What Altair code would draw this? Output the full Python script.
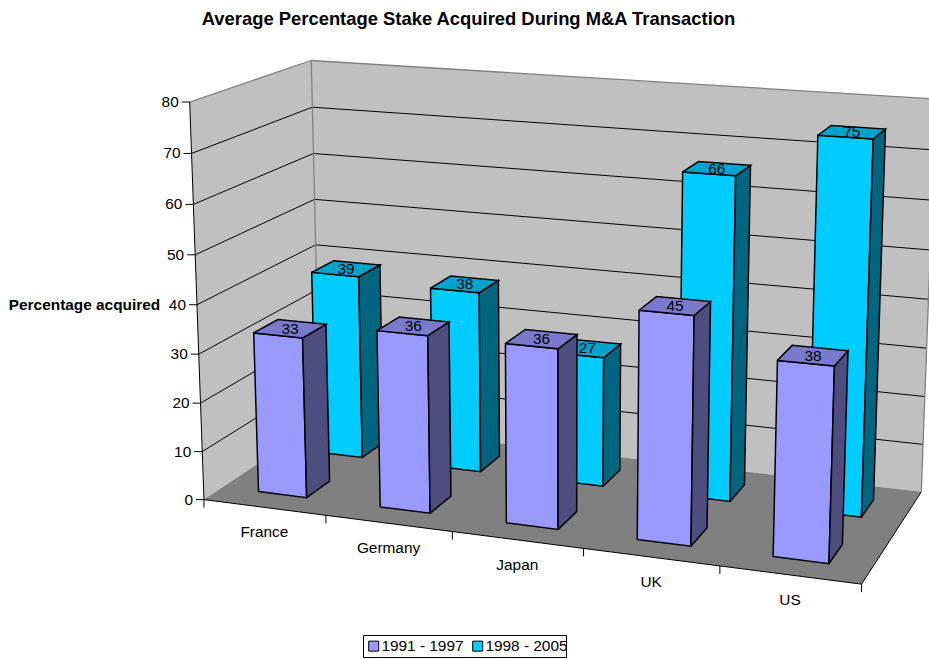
import altair as alt
import numpy as np
import pandas as pd

# Chart values
CATEGORIES = ["France", "Germany", "Japan", "UK", "US"]
EARLY_NAME = "1991 - 1997"
LATE_NAME = "1998 - 2005"
EARLY = [33, 36, 36, 45, 38]
LATE = [39, 38, 27, 66, 75]
VALUE_TICKS = [0, 10, 20, 30, 40, 50, 60, 70, 80]

TITLE = "Average Percentage Stake Acquired During M&A Transaction"
Y_TITLE = "Percentage acquired"
FONT = "Liberation Sans"
TEXT_SIZE = 15.4
TITLE_SIZE = 18.4

# Face colours of each series: front, side, top
EARLY_FACES = ("#9999FF", "#4D4D80", "#7A7ACC")
LATE_FACES = ("#00CCFF", "#006680", "#00A3CC")

# Column footprint: default 150% gap width and depth inside each cell
BAR_WIDTH = 0.4
BAR_DEPTH = 0.2
ROW_CENTRES = {"early": 0.25, "late": 0.75}

# Camera control points for the 3D view: (category, depth, value) -> screen
CAMERA = [
    (0, 0, 0, 205, 499), (0, 0, 80, 188.3, 101.7), (5, 0, 0, 861.7, 584),
    (0, 1, 80, 310.7, 60.3), (5, 1, 80, 929, 98), (5, 1, 0, 921.7, 491.7),
    (0, 1, 70, 312.7, 107.3), (0, 1, 60, 314, 153.3), (0, 1, 50, 315.3, 199.3),
    (0, 1, 40, 316.7, 244.7),
    (.3, .15, 33, 253.3, 333.3), (.7, .15, 33, 302.7, 338.3),
    (.7, .35, 33, 326, 324.7), (.3, .35, 33, 278.3, 319.3),
    (.3, .15, 0, 259, 490.7), (.7, .15, 0, 307, 497), (.7, .35, 0, 330.3, 480.3),
    (.3, .65, 39, 312, 272.7), (.7, .65, 39, 359.3, 277.3),
    (.7, .85, 39, 380, 264.7), (.3, .85, 39, 333.3, 260),
    (.7, .65, 0, 362.3, 456.7), (.7, .85, 0, 379, 445),
    (1.3, .15, 36, 376.7, 331), (1.7, .15, 36, 427.3, 336.7),
    (1.7, .35, 36, 449, 322.7), (1.3, .35, 36, 398.3, 317.3),
    (1.3, .15, 0, 380, 506.7), (1.7, .15, 0, 430, 513), (1.7, .35, 0, 450.7, 496),
    (3.3, .65, 66, 682.7, 172), (3.7, .65, 66, 736, 176.7),
    (3.7, .85, 66, 751.7, 165.3), (3.3, .85, 66, 699.3, 161.7),
    (3.7, .65, 0, 730, 501), (3.7, .85, 0, 745, 485),
    (3.7, .15, 0, 690.7, 546), (3.7, .35, 0, 706.7, 527.7),
    (4.3, .65, 75, 819, 135), (4.7, .65, 75, 874.3, 139.3),
    (4.7, .85, 75, 887.3, 128.7), (4.3, .85, 75, 832.7, 125.3),
    (4.7, .65, 0, 861.7, 516.7), (4.7, .85, 0, 874.3, 500),
    (4.3, .15, 0, 772.7, 556.7), (4.7, .15, 0, 828.3, 564), (4.7, .35, 0, 842.7, 545),
]


def solve_camera(points):
    """Least-squares projective camera through the control points."""
    rows = []
    for u, d, v, px, py in points:
        w = [u / 5, d, v / 80, 1]
        x, y = px / 1000, py / 1000
        rows.append(w + [0, 0, 0, 0] + [-x * c for c in w])
        rows.append([0, 0, 0, 0] + w + [-y * c for c in w])
    return np.linalg.svd(np.array(rows))[2][-1].reshape(3, 4)


P = solve_camera(CAMERA)


def project(u, d, v):
    a, b, c = P @ np.array([u / 5, d, v / 80, 1])
    return float(a / c * 1000), float(b / c * 1000)


def polygon_rows(rows, pid, fill, corners):
    for i, corner in enumerate(list(corners) + [corners[0]]):
        x, y = project(*corner)
        rows.append({"id": pid, "i": i, "x": x, "y": y, "fill": fill})


def segment_rows(rows, pid, a, b):
    for i, corner in enumerate((a, b)):
        x, y = project(*corner)
        rows.append({"id": pid, "i": i, "x": x, "y": y})


# Plot box: walls and floor
box = []
polygon_rows(box, "left", "#C0C0C0", [(0, 0, 0), (0, 0, 80), (0, 1, 80), (0, 1, 0)])
polygon_rows(box, "back", "#C0C0C0", [(0, 1, 0), (0, 1, 80), (5, 1, 80), (5, 1, 0)])
polygon_rows(box, "floor", "#808080", [(0, 0, 0), (5, 0, 0), (5, 1, 0), (0, 1, 0)])

# Grid lines across both walls, then the box edges
grid, grey_edges, black_edges = [], [], []
for t in VALUE_TICKS[1:-1]:
    segment_rows(grid, f"l{t}", (0, 0, t), (0, 1, t))
    segment_rows(grid, f"b{t}", (0, 1, t), (5, 1, t))
segment_rows(grey_edges, "e1", (0, 0, 80), (0, 1, 80))
segment_rows(grey_edges, "e2", (0, 1, 80), (5, 1, 80))
segment_rows(grey_edges, "e3", (0, 1, 0), (0, 1, 80))
segment_rows(grey_edges, "e4", (5, 1, 0), (5, 1, 80))
segment_rows(black_edges, "e5", (0, 0, 0), (0, 0, 80))
segment_rows(black_edges, "e6", (0, 0, 0), (5, 0, 0))
segment_rows(black_edges, "e7", (5, 0, 0), (5, 1, 0))

# Tick marks on the value and category axes
ticks = []
for t in VALUE_TICKS:
    x, y = project(0, 0, t)
    ticks += [{"id": f"v{t}", "i": 0, "x": x, "y": y},
              {"id": f"v{t}", "i": 1, "x": x - 8, "y": y}]
for k in range(len(CATEGORIES) + 1):
    x, y = project(k, 0, 0)
    ticks += [{"id": f"c{k}", "i": 0, "x": x, "y": y},
              {"id": f"c{k}", "i": 1, "x": x, "y": y + 8}]


def column(rows, pid, k, row, value, faces):
    u0, u1 = k + 0.5 - BAR_WIDTH / 2, k + 0.5 + BAR_WIDTH / 2
    d0, d1 = row - BAR_DEPTH / 2, row + BAR_DEPTH / 2
    polygon_rows(rows, pid + "f", faces[0], [(u0, d0, 0), (u0, d0, value), (u1, d0, value), (u1, d0, 0)])
    polygon_rows(rows, pid + "s", faces[1], [(u1, d0, 0), (u1, d0, value), (u1, d1, value), (u1, d1, 0)])
    polygon_rows(rows, pid + "t", faces[2], [(u0, d0, value), (u1, d0, value), (u1, d1, value), (u0, d1, value)])


# The far row is painted first so the near row covers it
bars, value_labels = [], []
for k, v in enumerate(LATE):
    column(bars, f"late{k}", k, ROW_CENTRES["late"], v, LATE_FACES)
for k, v in enumerate(EARLY):
    column(bars, f"early{k}", k, ROW_CENTRES["early"], v, EARLY_FACES)
for k, (a, b) in enumerate(zip(EARLY, LATE)):
    for value, row in ((b, "late"), (a, "early")):
        x, y = project(k + 0.5, ROW_CENTRES[row], value)
        value_labels.append({"x": x, "y": y, "t": str(value)})

tick_labels = []
for t in VALUE_TICKS:
    x, y = project(0, 0, t)
    tick_labels.append({"x": x, "y": y, "t": str(t)})
category_labels = []
for k, name in enumerate(CATEGORIES):
    x, y = project(k + 0.5, 0, 0)
    category_labels.append({"x": x, "y": y, "t": name})

X = alt.X("x:Q", scale=alt.Scale(domain=[0, 929], nice=False, zero=False), axis=None)
Y = alt.Y("y:Q", scale=alt.Scale(domain=[659, 0], nice=False, zero=False), axis=None)


def polygons(rows, **mark):
    return alt.Chart(pd.DataFrame(rows)).mark_line(clip=True, **mark).encode(
        x=X, y=Y, order=alt.Order("i:Q"), detail="id:N",
        fill=alt.Fill("fill:N", scale=None),
    )


def lines(rows, color, width=1.0):
    return alt.Chart(pd.DataFrame(rows)).mark_line(color=color, strokeWidth=width, clip=True).encode(
        x=X, y=Y, order=alt.Order("i:Q"), detail="id:N",
    )


def texts(rows, size=TEXT_SIZE, **mark):
    return alt.Chart(pd.DataFrame(rows)).mark_text(font=FONT, fontSize=size, color="#000000", **mark).encode(
        x=X, y=Y, text="t:N",
    )


# Frame behind the legend entries
legend_frame = alt.Chart(pd.DataFrame([{"x": 363.5, "x2": 566.5, "y": 635.5, "y2": 657.5}])).mark_rect(
    fill="#FFFFFF", stroke="#000000", strokeWidth=1
).encode(x=X, x2="x2:Q", y=Y, y2="y2:Q")

legend_layer = alt.Chart(pd.DataFrame({"series": [EARLY_NAME, LATE_NAME], "x": [0, 0], "y": [0, 0]})).mark_square(
    size=0, opacity=1
).encode(
    x=X, y=Y,
    color=alt.Color(
        "series:N",
        scale=alt.Scale(domain=[EARLY_NAME, LATE_NAME], range=[EARLY_FACES[0], LATE_FACES[0]]),
        legend=alt.Legend(
            title=None, orient="none", legendX=366, legendY=638, direction="horizontal",
            symbolType="square", symbolSize=100, symbolStrokeColor="#000000", symbolStrokeWidth=1,
            symbolOpacity=1, labelFont=FONT, labelFontSize=TEXT_SIZE, labelColor="#000000", labelOffset=0,
            padding=0, columnPadding=6,
        ),
    ),
)

chart = alt.layer(
    polygons(box, strokeWidth=0),
    lines(grid, "#000000"),
    lines(grey_edges, "#808080", 1.3),
    lines(black_edges, "#000000"),
    lines(ticks, "#000000"),
    polygons(bars, stroke="#000000", strokeWidth=1.5, strokeJoin="miter"),
    texts(value_labels, baseline="middle"),
    texts(tick_labels, align="right", baseline="middle", dx=-11),
    texts(category_labels, baseline="middle", dy=25),
    texts([{"x": 468.5, "y": 19, "t": TITLE}], size=TITLE_SIZE, fontWeight="bold"),
    texts([{"x": 84.5, "y": 305, "t": Y_TITLE}], fontWeight="bold"),
    legend_frame,
    legend_layer,
).properties(width=929, height=659, padding=0, background="#FFFFFF").configure_view(stroke=None)

chart.save("out.html", embed_options={"renderer": "svg", "actions": False})
